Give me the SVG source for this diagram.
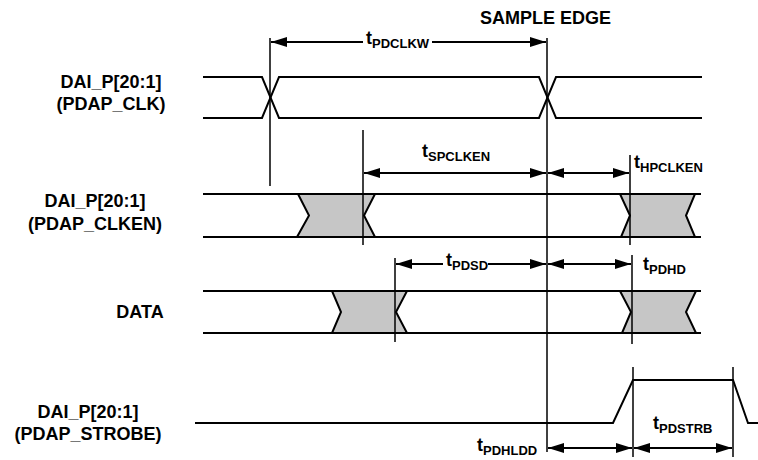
<svg xmlns="http://www.w3.org/2000/svg" width="758" height="460" viewBox="0 0 758 460">
<style>
  text { font-family: "Liberation Sans", Arial, sans-serif; font-weight: bold; fill: #000; }
  .lbl { font-size: 18px; text-anchor: middle; }
  .tm { font-size: 18px; }
  .sub { font-size: 13px; }
  .sig { fill: none; stroke: #000; stroke-width: 2; stroke-linejoin: miter; }
  .gray { fill: #c6c6c6; stroke: #000; stroke-width: 2; stroke-linejoin: miter; }
  .vl { stroke: #000; stroke-width: 1.5; fill: none; }
  .arr { stroke: #000; stroke-width: 2; fill: none; }
</style>
<defs>
  <marker id="ah" viewBox="0 0 16 10" markerUnits="userSpaceOnUse" markerWidth="16" markerHeight="10" refX="16" refY="5" orient="auto-start-reverse">
    <path d="M0,0 L16,5 L0,10 z" fill="#000"/>
  </marker>
</defs>
<rect width="758" height="460" fill="#fff"/>

<g id="sample-edge-label">
  <text class="tm" x="480" y="24">SAMPLE EDGE</text>
</g>

<g id="clk">
  <text class="lbl" x="111" y="88">DAI_P[20:1]</text>
  <text class="lbl" x="111" y="110">(PDAP_CLK)</text>
  <path class="sig" d="M203,77 H262 L279,118 H539 L556,77 H702"/>
  <path class="sig" d="M203,118 H262 L279,77 H539 L556,118 H702"/>
</g>

<g id="clken">
  <text class="lbl" x="95" y="207">DAI_P[20:1]</text>
  <text class="lbl" x="95" y="230">(PDAP_CLKEN)</text>
  <polygon class="gray" points="298,194 375,194 364,215.5 375,237 297,237 309,215.5"/>
  <polygon class="gray" points="620,194 695,194 686,215.5 695,237 621,237 630,215.5"/>
  <path class="sig" d="M203,194 H701 M203,237 H701"/>
</g>

<g id="data">
  <text class="lbl" x="140" y="318">DATA</text>
  <polygon class="gray" points="332,291 407,291 396,312 407,333 332,333 341,312"/>
  <polygon class="gray" points="620,291 696,291 686,312 696,333 622,333 631,312"/>
  <path class="sig" d="M203,291 H701 M203,333 H701"/>
</g>

<g id="strobe">
  <text class="lbl" x="88" y="418">DAI_P[20:1]</text>
  <text class="lbl" x="88" y="440">(PDAP_STROBE)</text>
  <path class="sig" d="M195,423 H613 L633,380 H733 L748,423 H758"/>
</g>

<g id="connectors">
  <!-- reference verticals -->
  <line class="vl" x1="270" y1="38" x2="270" y2="186"/>
  <line class="vl" x1="547" y1="38" x2="547" y2="452"/>
  <line class="vl" x1="363" y1="130" x2="363" y2="245"/>
  <line class="vl" x1="630" y1="155" x2="630" y2="245"/>
  <line class="vl" x1="395" y1="258" x2="395" y2="342"/>
  <line class="vl" x1="632" y1="255" x2="632" y2="344"/>
  <line class="vl" x1="633" y1="367" x2="633" y2="457"/>
  <line class="vl" x1="733" y1="367" x2="733" y2="457"/>

  <!-- tPDCLKW -->
  <line class="arr" x1="363" y1="42" x2="271" y2="42" marker-end="url(#ah)"/>
  <line class="arr" x1="432" y1="42" x2="546" y2="42" marker-end="url(#ah)"/>
  <!-- tSPCLKEN / tHPCLKEN -->
  <line class="arr" x1="364" y1="173" x2="546" y2="173" marker-start="url(#ah)" marker-end="url(#ah)"/>
  <line class="arr" x1="548" y1="173" x2="629" y2="173" marker-start="url(#ah)" marker-end="url(#ah)"/>
  <!-- tPDSD / tPDHD -->
  <line class="arr" x1="443" y1="264" x2="396" y2="264" marker-end="url(#ah)"/>
  <line class="arr" x1="488" y1="264" x2="546" y2="264" marker-end="url(#ah)"/>
  <line class="arr" x1="548" y1="264" x2="631" y2="264" marker-start="url(#ah)" marker-end="url(#ah)"/>
  <!-- tPDHLDD / tPDSTRB -->
  <line class="arr" x1="548" y1="448" x2="632" y2="448" marker-start="url(#ah)" marker-end="url(#ah)"/>
  <line class="arr" x1="634" y1="448" x2="732" y2="448" marker-start="url(#ah)" marker-end="url(#ah)"/>

  <!-- timing labels -->
  <text class="tm" x="366" y="44">t<tspan class="sub" dy="4">PDCLKW</tspan></text>
  <text class="tm" x="422" y="157">t<tspan class="sub" dy="4">SPCLKEN</tspan></text>
  <text class="tm" x="634" y="168">t<tspan class="sub" dy="4">HPCLKEN</tspan></text>
  <text class="tm" x="446" y="266">t<tspan class="sub" dy="4">PDSD</tspan></text>
  <text class="tm" x="643" y="270">t<tspan class="sub" dy="4">PDHD</tspan></text>
  <text class="tm" x="653" y="429">t<tspan class="sub" dy="4">PDSTRB</tspan></text>
  <text class="tm" x="477" y="451">t<tspan class="sub" dy="4">PDHLDD</tspan></text>
</g>
</svg>
